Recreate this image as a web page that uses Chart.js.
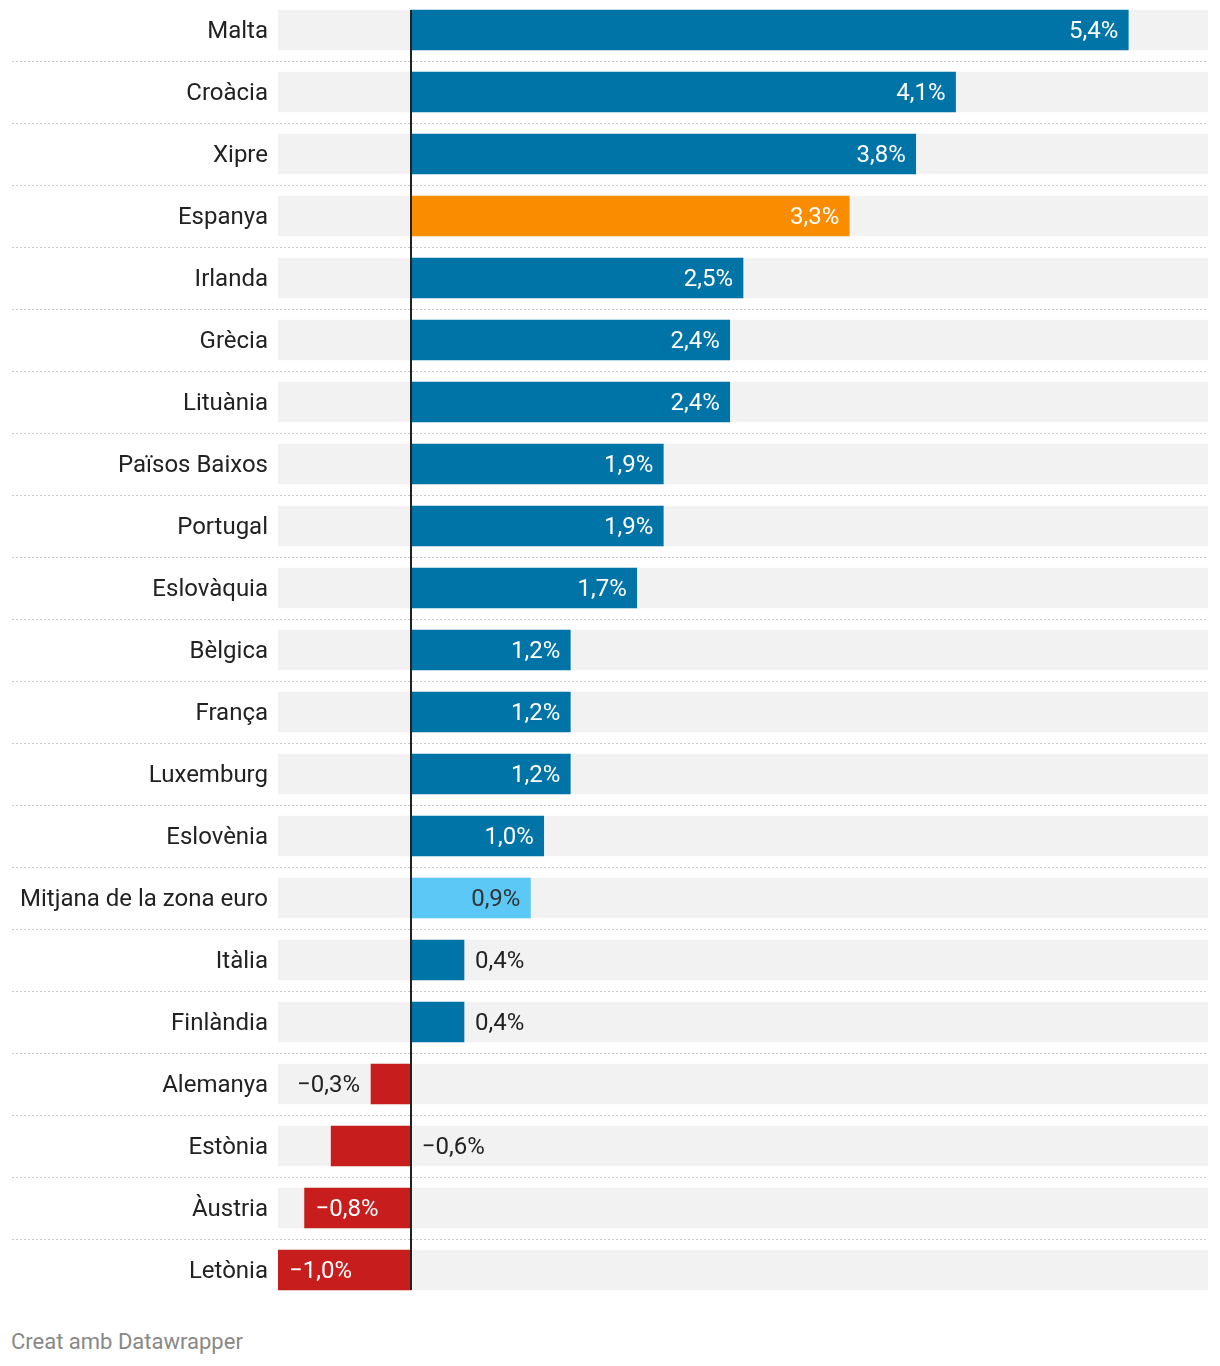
<!DOCTYPE html>
<html>
<head>
<meta charset="utf-8">
<script src="https://cdn.jsdelivr.net/npm/chart.js@4/dist/chart.umd.min.js"></script>
<style>
  html, body { margin: 0; padding: 0; background: #fff; }
  #wrap { position: relative; width: 1220px; height: 1366px; overflow: hidden; }
  #chartBox { position: absolute; left: 0; top: -1px; width: 1220px; height: 1302px; }
  #credit { position: absolute; left: 11px; top: 1328px; font-family: Roboto, sans-serif; font-size: 22px; line-height: 28px; color: #888; }
</style>
</head>
<body>
<div id="wrap">
  <div id="chartBox"><canvas id="c" width="1220" height="1302"></canvas></div>
  <div id="credit">Creat amb Datawrapper</div>
</div>
<script>
// ---- Data ----
const categories = ["Malta", "Croàcia", "Xipre", "Espanya", "Irlanda", "Grècia", "Lituània", "Països Baixos", "Portugal", "Eslovàquia", "Bèlgica", "França", "Luxemburg", "Eslovènia", "Mitjana de la zona euro", "Itàlia", "Finlàndia", "Alemanya", "Estònia", "Àustria", "Letònia"];
const values = [5.4, 4.1, 3.8, 3.3, 2.5, 2.4, 2.4, 1.9, 1.9, 1.7, 1.2, 1.2, 1.2, 1.0, 0.9, 0.4, 0.4, -0.3, -0.6, -0.8, -1.0];
const xMin = -1;
const xMax = 6;
const highlightSpain = "Espanya";
const highlightAverage = "Mitjana de la zona euro";

// ---- Styles ----
const BLUE = "#0073a7", ORANGE = "#fa8c00", LIGHTBLUE = "#5bc8f5", RED = "#c71e1d", BG = "#f2f2f2";
const FONT = "Roboto, 'Liberation Sans', sans-serif";
const FONT_SIZE = 24;
const TEXT = "#222";

const barColors = categories.map((c, i) => {
  if (c === highlightSpain) return ORANGE;
  if (c === highlightAverage) return LIGHTBLUE;
  return values[i] < 0 ? RED : BLUE;
});

function fmt(v) {
  const s = Math.abs(v).toFixed(1).replace(".", ",") + "%";
  return (v < 0 ? "\u2212" : "") + s;
}
function isLight(hex) {
  const r = parseInt(hex.slice(1,3),16), g = parseInt(hex.slice(3,5),16), b = parseInt(hex.slice(5,7),16);
  return (0.299*r + 0.587*g + 0.114*b) > 170;
}

const separatorPlugin = {
  id: "separators",
  beforeDatasetsDraw(chart) {
    const ctx = chart.ctx, y = chart.scales.y, area = chart.chartArea;
    ctx.save();
    ctx.strokeStyle = "#cccccc";
    ctx.lineWidth = 1;
    ctx.setLineDash([2, 2]);
    for (let i = 0; i < categories.length - 1; i++) {
      const py = Math.round((y.getPixelForValue(i) + y.getPixelForValue(i + 1)) / 2) + 0.5;
      ctx.beginPath();
      ctx.moveTo(12, py);
      ctx.lineTo(area.right, py);
      ctx.stroke();
    }
    ctx.restore();
  }
};

const zeroAndLabelsPlugin = {
  id: "zeroLabels",
  afterDatasetsDraw(chart) {
    const ctx = chart.ctx, x = chart.scales.x, y = chart.scales.y, area = chart.chartArea;
    const meta = chart.getDatasetMeta(0);
    const half = meta.data[0].height / 2;
    const x0 = x.getPixelForValue(0);
    // zero line
    ctx.save();
    ctx.strokeStyle = "#222";
    ctx.lineWidth = 2;
    ctx.beginPath();
    ctx.moveTo(Math.round(x0), y.getPixelForValue(0) - half);
    ctx.lineTo(Math.round(x0), y.getPixelForValue(categories.length - 1) + half);
    ctx.stroke();
    // value labels
    ctx.font = FONT_SIZE + "px " + FONT;
    ctx.textBaseline = "middle";
    const pad = 10;
    values.forEach((v, i) => {
      const txt = fmt(v);
      const tw = ctx.measureText(txt).width;
      const xe = x.getPixelForValue(v);
      const py = y.getPixelForValue(i) + 2;
      const barW = Math.abs(xe - x0);
      if (barW >= tw + 2 * pad) {
        ctx.fillStyle = isLight(barColors[i]) ? "#333" : "#fff";
        if (v >= 0) { ctx.textAlign = "right"; ctx.fillText(txt, xe - pad, py); }
        else { ctx.textAlign = "left"; ctx.fillText(txt, xe + pad + 1, py); }
      } else {
        ctx.fillStyle = TEXT;
        if (v >= 0) { ctx.textAlign = "left"; ctx.fillText(txt, xe + pad + 1, py); }
        else if (xe - pad - 1 - tw >= area.left) { ctx.textAlign = "right"; ctx.fillText(txt, xe - pad - 1, py); }
        else { ctx.textAlign = "left"; ctx.fillText(txt, x0 + pad + 1, py); }
      }
    });
    ctx.restore();
  }
};

new Chart(document.getElementById("c"), {
  type: "bar",
  data: {
    labels: categories,
    datasets: [
      { data: values, backgroundColor: barColors, barThickness: 40, grouped: false, borderWidth: 0 },
      { data: categories.map(() => [xMin, xMax]), backgroundColor: BG, barThickness: 40, grouped: false, borderWidth: 0 }
    ]
  },
  options: {
    indexAxis: "y",
    responsive: false,
    animation: false,
    devicePixelRatio: 1,
    layout: { padding: { left: 0, right: 12, top: 0, bottom: 0 } },
    plugins: { legend: { display: false }, tooltip: { enabled: false } },
    scales: {
      x: { type: "linear", min: xMin, max: xMax, display: false },
      y: {
        type: "category",
        grid: { display: false, drawTicks: false },
        border: { display: false },
        ticks: { color: TEXT, padding: 10, labelOffset: 2, font: { family: FONT, size: FONT_SIZE } },
        afterFit(scale) { scale.width = 278; scale.paddingTop = 0; scale.paddingBottom = 0; }
      }
    }
  },
  plugins: [separatorPlugin, zeroAndLabelsPlugin]
});
</script>
</body>
</html>
